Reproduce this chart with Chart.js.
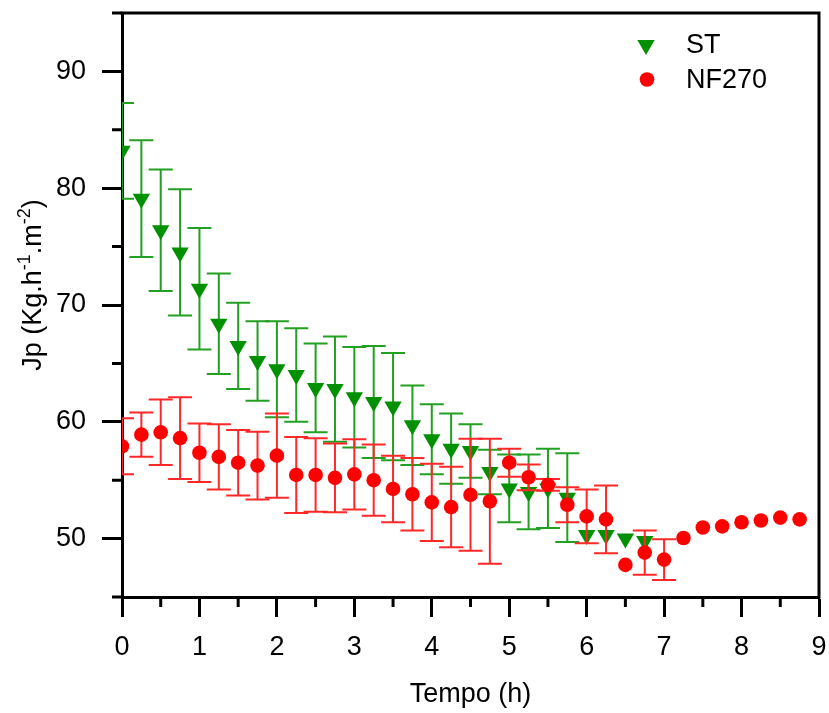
<!DOCTYPE html>
<html>
<head>
<meta charset="utf-8">
<script src="https://cdn.jsdelivr.net/npm/chart.js@4.4.1/dist/chart.umd.min.js"></script>
<style>
  html, body { margin: 0; padding: 0; background: #ffffff; }
  #wrap { width: 829px; height: 713px; position: relative; }
</style>
</head>
<body>
<div id="wrap"><canvas id="c" width="829" height="713"></canvas></div>
<script>
// ---- Data ----
const seriesNames = ['ST', 'NF270'];
const stTime = [0, 0.25, 0.5, 0.75, 1, 1.25, 1.5, 1.75, 2, 2.25, 2.5, 2.75, 3, 3.25, 3.5, 3.75, 4, 4.25, 4.5, 4.75, 5, 5.25, 5.5, 5.75, 6, 6.25, 6.5, 6.75];
const stFlux = [83.2, 79.1, 76.4, 74.5, 71.4, 68.4, 66.5, 65.2, 64.5, 64.0, 62.9, 62.8, 62.1, 61.7, 61.3, 59.7, 58.5, 57.7, 57.5, 55.7, 54.3, 54.0, 54.3, 53.5, 50.3, 50.3, 50.0, 49.8];
const stErr  = [4.1, 5.0, 5.2, 5.4, 5.2, 4.3, 3.7, 3.4, 4.1, 4.0, 3.8, 4.5, 4.3, 4.8, 4.6, 3.4, 3.0, 3.0, 2.3, 1.9, 2.9, 3.2, 3.4, 3.8, 0, 0, 0, 0];
const nfTime = [0, 0.25, 0.5, 0.75, 1, 1.25, 1.5, 1.75, 2, 2.25, 2.5, 2.75, 3, 3.25, 3.5, 3.75, 4, 4.25, 4.5, 4.75, 5, 5.25, 5.5, 5.75, 6, 6.25, 6.5, 6.75, 7, 7.25, 7.5, 7.75, 8, 8.25, 8.5, 8.75];
const nfFlux = [57.9, 58.9, 59.1, 58.6, 57.35, 57.0, 56.5, 56.25, 57.1, 55.45, 55.45, 55.2, 55.5, 55.0, 54.25, 53.8, 53.1, 52.7, 53.75, 53.2, 56.5, 55.25, 54.6, 52.9, 51.9, 51.65, 47.75, 48.8, 48.2, 50.05, 50.95, 51.05, 51.4, 51.55, 51.8, 51.65];
const nfErr  = [2.4, 1.9, 2.8, 3.5, 2.5, 2.8, 2.8, 2.9, 3.6, 3.25, 3.15, 2.95, 3.0, 3.05, 2.85, 3.1, 3.3, 3.45, 4.8, 5.35, 1.2, 1.1, 0.5, 1.5, 2.3, 2.9, 0, 1.9, 1.75, 0, 0, 0, 0, 0, 0, 0];
const xTitle = 'Tempo (h)';
const yTitleParts = [['Jp (Kg.h', false], ['-1', true], ['.m', false], ['-2', true], [')', false]];
const xMin = 0, xMax = 9, xStep = 1;
const yMin = 45, yMax = 95, yStep = 10;

const FONT = '"Liberation Sans", Arial, Helvetica, sans-serif';
const FS = 27;

function pts(xs, ys) { return xs.map((x, i) => ({ x: x, y: ys[i] })); }

const errorBars = {
  id: 'errorBars',
  beforeDatasetDraw(chart, args) {
    const ds = chart.data.datasets[args.index];
    if (!ds.errors) return;
    const xs = chart.scales.x, ys = chart.scales.y, ca = chart.chartArea;
    const ctx = chart.ctx;
    ctx.save();
    ctx.beginPath();
    ctx.rect(ca.left, ca.top, ca.right - ca.left, ca.bottom - ca.top);
    ctx.clip();
    ctx.strokeStyle = ds.errorColor;
    ctx.lineWidth = 2;
    ds.data.forEach((p, i) => {
      const e = ds.errors[i];
      if (!e) return;
      const px = xs.getPixelForValue(p.x);
      const top = ys.getPixelForValue(p.y + e);
      const bot = ys.getPixelForValue(p.y - e);
      ctx.beginPath();
      ctx.moveTo(px, top); ctx.lineTo(px, bot);
      ctx.moveTo(px - 12, top); ctx.lineTo(px + 12, top);
      ctx.moveTo(px - 12, bot); ctx.lineTo(px + 12, bot);
      ctx.stroke();
    });
    ctx.restore();
  }
};

const decorations = {
  id: 'decorations',
  afterDraw(chart) {
    const ctx = chart.ctx, ca = chart.chartArea;
    const xs = chart.scales.x, ys = chart.scales.y;
    ctx.save();
    // frame (top and right)
    ctx.strokeStyle = '#000';
    ctx.lineWidth = 3;
    ctx.beginPath();
    ctx.moveTo(ca.left - 1.5, ca.top);
    ctx.lineTo(ca.right, ca.top);
    ctx.lineTo(ca.right, ca.bottom + 1.5);
    ctx.stroke();
    // minor ticks
    ctx.beginPath();
    for (let v = xMin + xStep / 2; v < xMax; v += xStep) {
      const px = xs.getPixelForValue(v);
      ctx.moveTo(px, ca.bottom); ctx.lineTo(px, ca.bottom + 10);
    }
    for (let v = yMin; v <= yMax; v += yStep) {
      const py = ys.getPixelForValue(v);
      ctx.moveTo(ca.left, py); ctx.lineTo(ca.left - 10, py);
    }
    ctx.stroke();

    // y title with superscripts
    const big = FS + 'px ' + FONT;
    const small = Math.round(FS * 0.68) + 'px ' + FONT;
    let total = 0;
    yTitleParts.forEach(([t, sup]) => { ctx.font = sup ? small : big; total += ctx.measureText(t).width; });
    ctx.translate(41, 285);
    ctx.rotate(-Math.PI / 2);
    ctx.fillStyle = '#000';
    ctx.textBaseline = 'alphabetic';
    ctx.textAlign = 'left';
    let pos = -total / 2;
    yTitleParts.forEach(([t, sup]) => {
      ctx.font = sup ? small : big;
      ctx.fillText(t, pos, sup ? -FS * 0.42 : 0);
      pos += ctx.measureText(t).width;
    });
    ctx.restore();

    // legend
    ctx.save();
    const d0 = chart.data.datasets[0], d1 = chart.data.datasets[1];
    const tx = 646, ty = 45, r = 10;
    ctx.fillStyle = d0.backgroundColor;
    ctx.beginPath();
    ctx.moveTo(tx, ty + r);
    ctx.lineTo(tx - r * Math.sin(Math.PI / 3), ty - r / 2);
    ctx.lineTo(tx + r * Math.sin(Math.PI / 3), ty - r / 2);
    ctx.closePath();
    ctx.fill();
    ctx.fillStyle = d1.backgroundColor;
    ctx.beginPath();
    ctx.arc(647, 79.5, 7.3, 0, Math.PI * 2);
    ctx.fill();
    ctx.fillStyle = '#000';
    ctx.font = FS + 'px ' + FONT;
    ctx.textBaseline = 'middle';
    ctx.textAlign = 'left';
    ctx.fillText(d0.label, 686, 46);
    ctx.fillText(d1.label, 686, 81);
    ctx.restore();
  }
};

new Chart(document.getElementById('c'), {
  type: 'scatter',
  data: {
    datasets: [
      {
        label: seriesNames[0],
        data: pts(stTime, stFlux),
        errors: stErr,
        errorColor: '#22a022',
        backgroundColor: '#009000',
        borderWidth: 0,
        pointStyle: 'triangle',
        rotation: 180,
        pointRadius: 10,
        clip: 0,
        order: 2
      },
      {
        label: seriesNames[1],
        data: pts(nfTime, nfFlux),
        errors: nfErr,
        errorColor: '#ff2828',
        backgroundColor: '#ff0000',
        borderWidth: 0,
        pointStyle: 'circle',
        pointRadius: 7.3,
        clip: 0,
        order: 1
      }
    ]
  },
  options: {
    responsive: false,
    animation: false,
    events: [],
    layout: { padding: { top: 13, right: 9, left: 0, bottom: 0 } },
    plugins: { legend: { display: false }, tooltip: { enabled: false } },
    scales: {
      x: {
        type: 'linear',
        min: xMin, max: xMax,
        afterFit(s) { s.height = 116; s.paddingLeft = 0; s.paddingRight = 0; },
        border: { display: true, color: '#000', width: 3 },
        grid: { drawOnChartArea: false, tickLength: 20, tickWidth: 3, tickColor: '#000' },
        ticks: { stepSize: xStep, color: '#000', font: { family: FONT, size: FS }, padding: 14, maxRotation: 0 },
        title: { display: true, text: xTitle, color: '#000', font: { family: FONT, size: FS }, padding: { top: 0, bottom: 2 } }
      },
      y: {
        type: 'linear',
        min: yMin, max: yMax,
        afterFit(s) { s.width = 122; s.paddingTop = 0; s.paddingBottom = 0; },
        afterBuildTicks(s) {
          const t = [];
          for (let v = 50; v <= 90; v += yStep) t.push({ value: v });
          s.ticks = t;
        },
        border: { display: true, color: '#000', width: 3 },
        grid: { drawOnChartArea: false, tickLength: 20, tickWidth: 3, tickColor: '#000' },
        ticks: { color: '#000', font: { family: FONT, size: FS }, padding: 16 }
      }
    }
  },
  plugins: [errorBars, decorations]
});
</script>
</body>
</html>
